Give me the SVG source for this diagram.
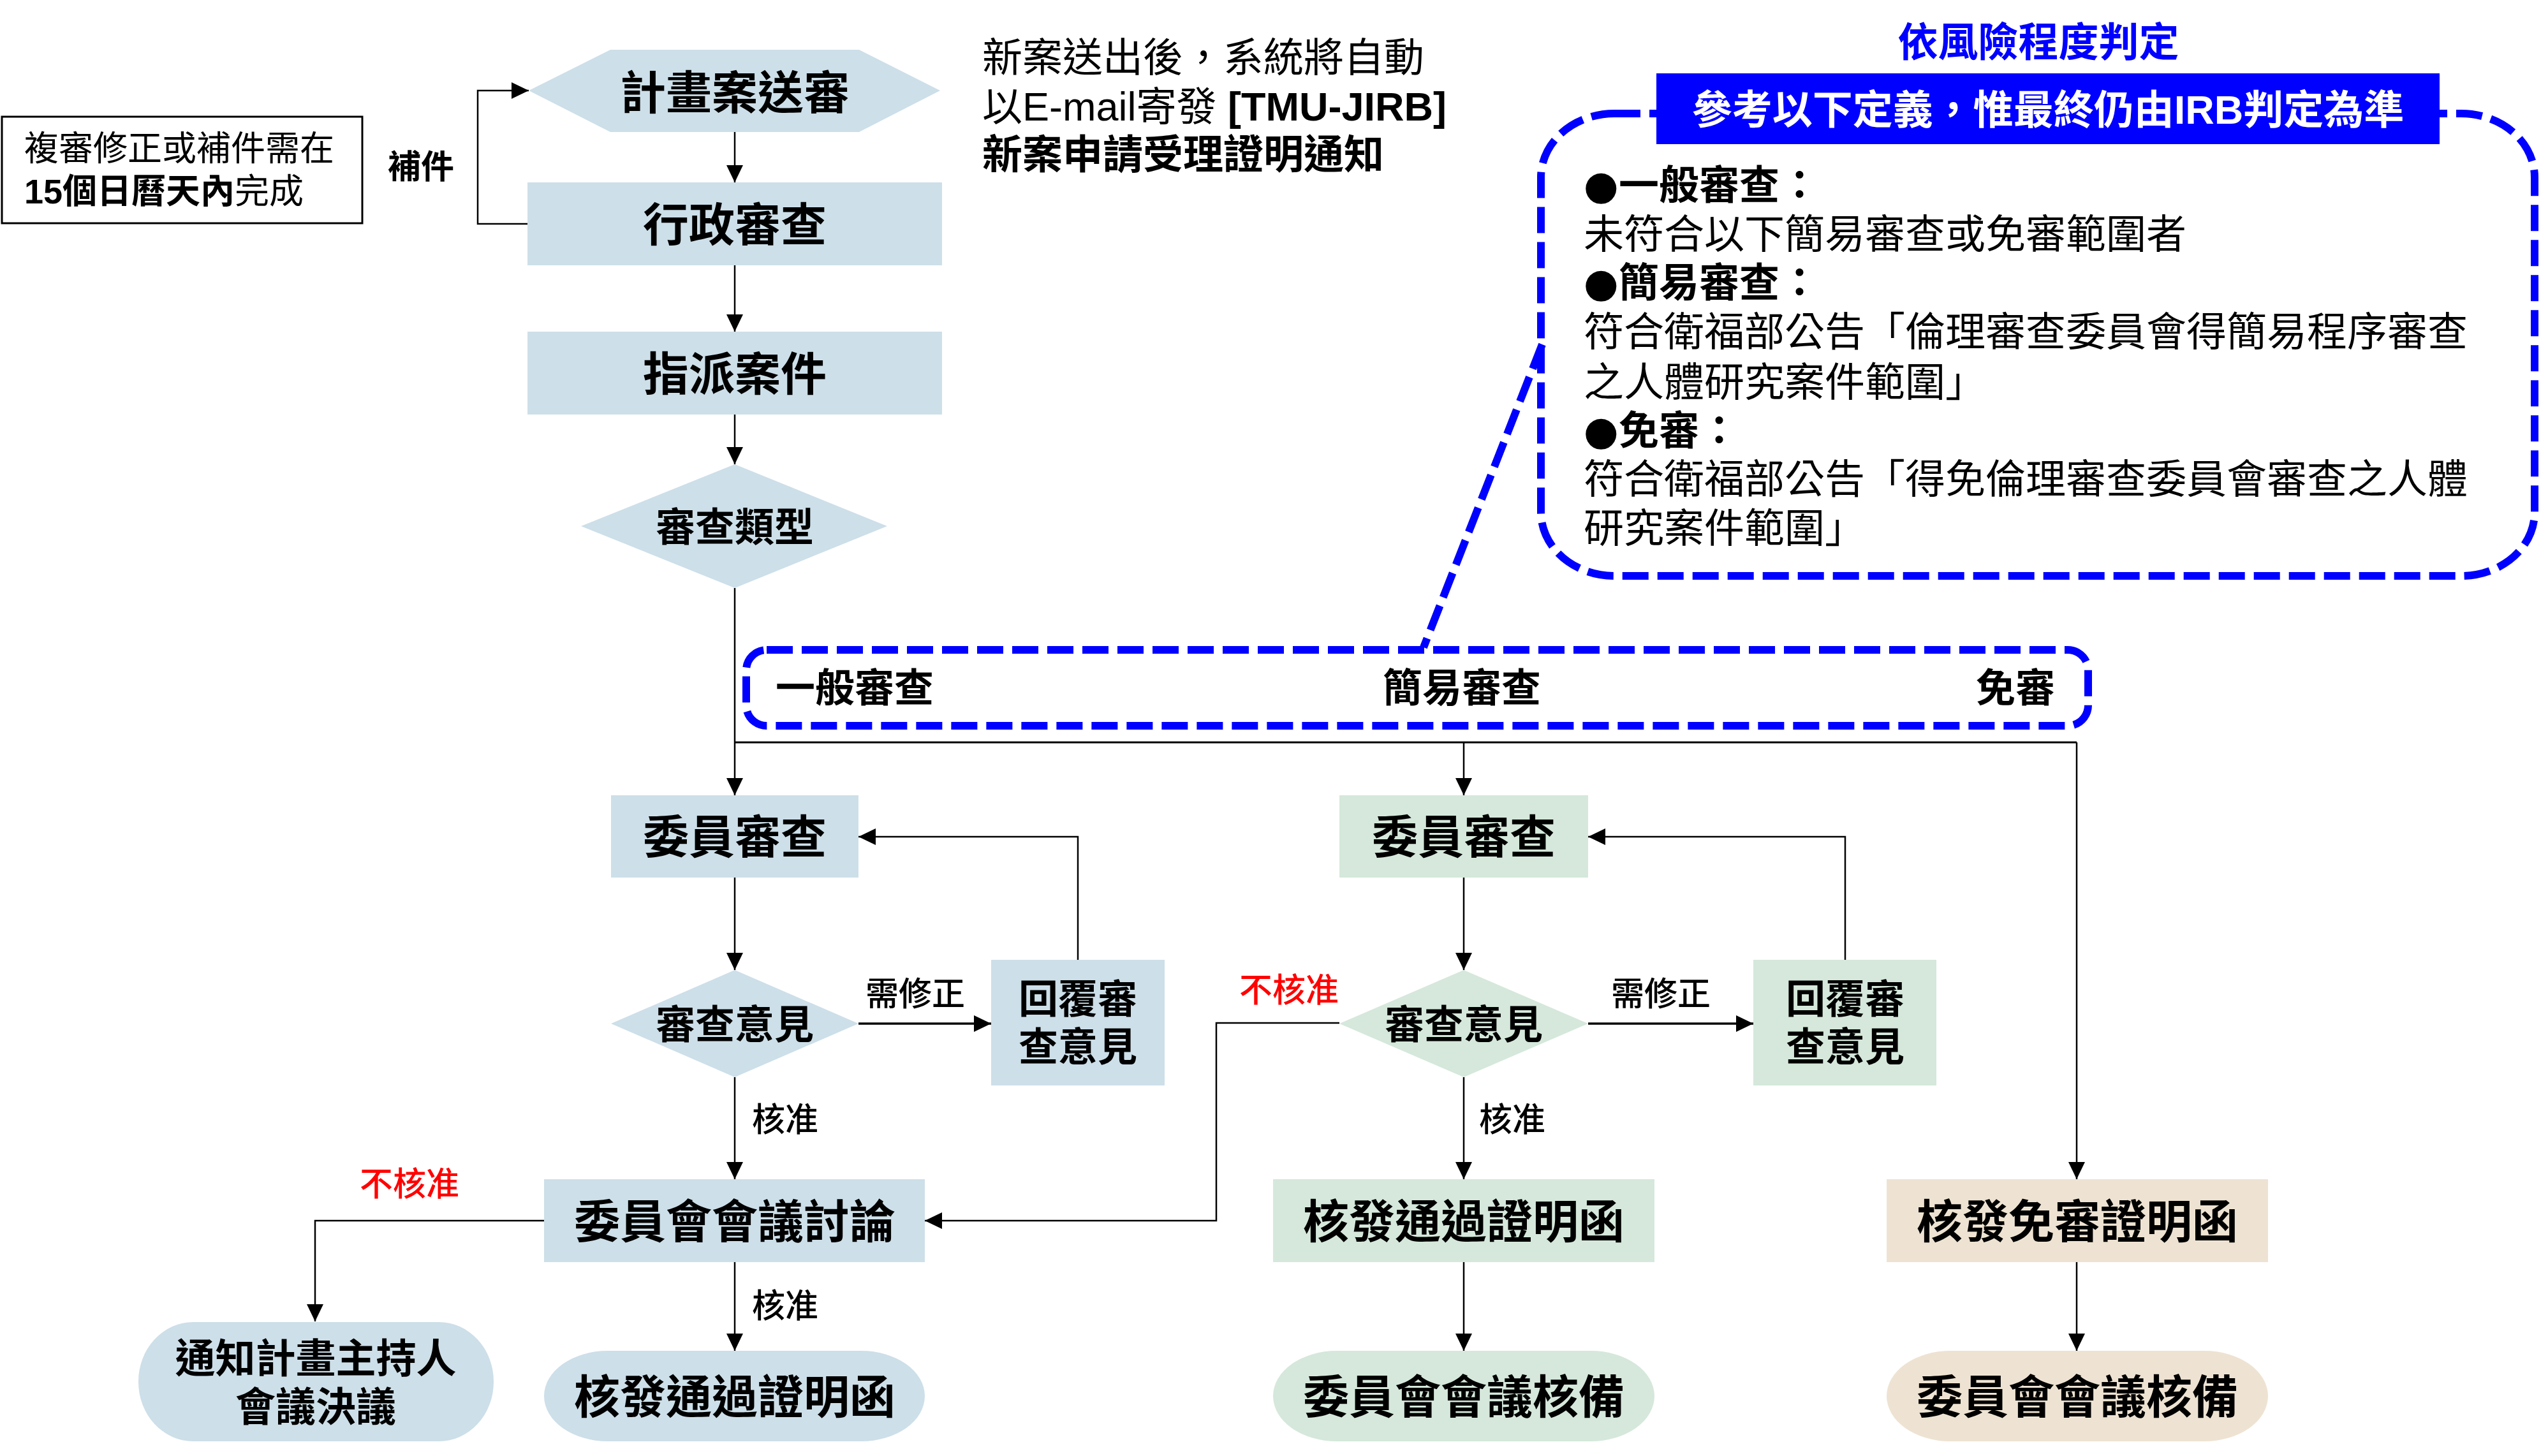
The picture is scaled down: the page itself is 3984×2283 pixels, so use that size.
<svg xmlns="http://www.w3.org/2000/svg" width="3984" height="2283" viewBox="0 0 3984 2283">
<defs>
<marker id="ah" viewBox="0 0 27 26" markerWidth="27" markerHeight="26" refX="27" refY="13" orient="auto" markerUnits="userSpaceOnUse">
<path d="M0,0 L27,13 L0,26 z" fill="#000"/>
</marker>
</defs>
<style>
text{font-family:"Liberation Sans","Noto Sans CJK TC",sans-serif;fill:#000}
.n{font-size:72px;font-weight:700;text-anchor:middle}
.m{font-size:62px;font-weight:700;text-anchor:middle}
.lb{font-size:52px;font-weight:500}
.red{fill:#FF0000}
.b{font-size:63px}
.bb{font-weight:700}
.dot{font-family:"DejaVu Sans",sans-serif}
.blue{fill:#CDDFE9}
.green{fill:#D5E8DB}
.beige{fill:#EEE3D2}
.c{fill:none;stroke:#000;stroke-width:2.5}
.ca{fill:none;stroke:#000;stroke-width:2.5;marker-end:url(#ah)}
.dash{fill:none;stroke:#0000FF;stroke-width:12;stroke-dasharray:41 14}
</style>
<rect width="3984" height="2283" fill="#fff"/>

<!-- annotations -->
<g id="note-box">
<rect x="3" y="183" width="565" height="167" fill="#fff" stroke="#000" stroke-width="3"/>
<text x="38" y="252" style="font-size:54px">複審修正或補件需在</text>
<text x="38" y="319" style="font-size:54px"><tspan font-weight="700">15個日曆天內</tspan>完成</text>
</g>
<g id="email-note">
<text x="1540" y="112" class="b">新案送出後，系統將自動</text>
<text x="1540" y="189" class="b">以E-mail寄發 <tspan class="bb">[TMU-JIRB]</tspan></text>
<text x="1540" y="264" class="b bb">新案申請受理證明通知</text>
</g>

<g id="risk-definition">
<line x1="2418" y1="540" x2="2232" y2="1015" stroke="#0000FF" stroke-width="12" stroke-dasharray="41 14"/>
<rect x="2416" y="178" width="1558" height="725" rx="115" ry="100" class="dash"/>
<text x="3196" y="88" class="b bb" style="fill:#0000FF;text-anchor:middle">依風險程度判定</text>
<rect x="2597" y="115" width="1228" height="111" fill="#0000FF"/>
<text x="3211" y="194" class="b bb" style="fill:#fff;text-anchor:middle">參考以下定義，惟最終仍由IRB判定為準</text>
<text x="2483" y="312" class="b bb"><tspan class="dot">●</tspan>一般審查：</text>
<text x="2483" y="389" class="b">未符合以下簡易審查或免審範圍者</text>
<text x="2483" y="465" class="b bb"><tspan class="dot">●</tspan>簡易審查：</text>
<text x="2483" y="542" class="b">符合衛福部公告「倫理審查委員會得簡易程序審查</text>
<text x="2483" y="621" class="b">之人體研究案件範圍」</text>
<text x="2483" y="697" class="b bb"><tspan class="dot">●</tspan>免審：</text>
<text x="2483" y="773" class="b">符合衛福部公告「得免倫理審查委員會審查之人體</text>
<text x="2483" y="850" class="b">研究案件範圍」</text>
</g>

<g id="review-types">
<rect x="1170" y="1019" width="2104" height="119" rx="32" class="dash"/>
<text x="1216" y="1101" style="font-size:62px;font-weight:700">一般審查</text>
<text x="2292" y="1101" class="m">簡易審查</text>
<text x="3222" y="1101" style="font-size:62px;font-weight:700;text-anchor:end">免審</text>
</g>

<!-- connectors -->
<g id="connectors">
<path class="ca" d="M1152,207 V286"/>
<path class="ca" d="M1152,416 V520"/>
<path class="ca" d="M1152,650 V728"/>
<path class="ca" d="M1152,922 V1247"/>
<path class="ca" d="M827,351 H749 V142 H829"/>
<path class="c" d="M1152,1164 H3256" style="stroke-width:3"/>
<path class="ca" d="M2295,1164 V1247"/>
<path class="ca" d="M3256,1164 V1849"/>
<path class="ca" d="M1152,1376 V1521"/>
<path class="ca" d="M1346,1605 H1554" style="stroke-width:3.5"/>
<path class="ca" d="M1690,1505 V1312 H1346"/>
<path class="ca" d="M1152,1689 V1849"/>
<path class="ca" d="M853,1914 H494 V2072"/>
<path class="ca" d="M1152,1979 V2118"/>
<path class="ca" d="M2295,1376 V1521"/>
<path class="ca" d="M2490,1605 H2749" style="stroke-width:3.5"/>
<path class="ca" d="M2893,1505 V1312 H2490"/>
<path class="ca" d="M2100,1604 H1907 V1914 H1450"/>
<path class="ca" d="M2295,1689 V1849"/>
<path class="ca" d="M2295,1979 V2118"/>
<path class="ca" d="M3256,1979 V2118"/>
<text x="608" y="280" class="lb" style="font-weight:700">補件</text>
<text x="1357" y="1577" class="lb">需修正</text>
<text x="2526" y="1577" class="lb">需修正</text>
<text x="1179" y="1774" class="lb">核准</text>
<text x="2319" y="1774" class="lb">核准</text>
<text x="1179" y="2066" class="lb">核准</text>
<text x="1943" y="1571" class="lb red">不核准</text>
<text x="564" y="1875" class="lb red">不核准</text>
</g>

<!-- nodes -->
<g id="submit">
<polygon points="829,142 957,78 1347,78 1474,142 1347,207 957,207" class="blue"/>
<text x="1152" y="171" class="n">計畫案送審</text>
</g>
<g id="admin-review">
<rect x="827" y="286" width="650" height="130" class="blue"/>
<text x="1152" y="378" class="n">行政審查</text>
</g>
<g id="assign">
<rect x="827" y="520" width="650" height="130" class="blue"/>
<text x="1152" y="612" class="n">指派案件</text>
</g>
<g id="review-type">
<polygon points="1152,728 1391,825 1152,922 911,825" class="blue"/>
<text x="1152" y="849" class="m">審查類型</text>
</g>

<g id="member-review-full">
<rect x="958" y="1247" width="388" height="129" class="blue"/>
<text x="1152" y="1338" class="n">委員審查</text>
</g>
<g id="opinion-full">
<polygon points="1152,1521 1346,1605 1152,1689 958,1605" class="blue"/>
<text x="1152" y="1629" class="m">審查意見</text>
</g>
<g id="reply-full">
<rect x="1554" y="1505" width="272" height="197" class="blue"/>
<text x="1690" y="1589" class="m">回覆審</text>
<text x="1690" y="1664" class="m">查意見</text>
</g>
<g id="committee-meeting">
<rect x="853" y="1849" width="597" height="130" class="blue"/>
<text x="1152" y="1941" class="n">委員會會議討論</text>
</g>
<g id="notify-pi">
<rect x="217" y="2073" width="557" height="187" rx="86" ry="93" class="blue"/>
<text x="495" y="2152" class="b bb" style="text-anchor:middle">通知計畫主持人</text>
<text x="495" y="2228" class="b bb" style="text-anchor:middle">會議決議</text>
</g>
<g id="approval-full">
<rect x="853" y="2118" width="597" height="142" rx="100" ry="71" class="blue"/>
<text x="1152" y="2216" class="n">核發通過證明函</text>
</g>

<g id="member-review-expedited">
<rect x="2100" y="1247" width="390" height="129" class="green"/>
<text x="2295" y="1338" class="n">委員審查</text>
</g>
<g id="opinion-expedited">
<polygon points="2295,1521 2490,1605 2295,1689 2100,1605" class="green"/>
<text x="2295" y="1629" class="m">審查意見</text>
</g>
<g id="reply-expedited">
<rect x="2749" y="1505" width="287" height="197" class="green"/>
<text x="2893" y="1589" class="m">回覆審</text>
<text x="2893" y="1664" class="m">查意見</text>
</g>
<g id="approval-expedited">
<rect x="1996" y="1849" width="598" height="130" class="green"/>
<text x="2295" y="1941" class="n">核發通過證明函</text>
</g>
<g id="ratify-expedited">
<rect x="1996" y="2118" width="598" height="142" rx="100" ry="71" class="green"/>
<text x="2295" y="2216" class="n">委員會會議核備</text>
</g>

<g id="exempt-letter">
<rect x="2958" y="1849" width="598" height="130" class="beige"/>
<text x="3257" y="1941" class="n">核發免審證明函</text>
</g>
<g id="ratify-exempt">
<rect x="2958" y="2118" width="598" height="142" rx="100" ry="71" class="beige"/>
<text x="3257" y="2216" class="n">委員會會議核備</text>
</g>
</svg>
